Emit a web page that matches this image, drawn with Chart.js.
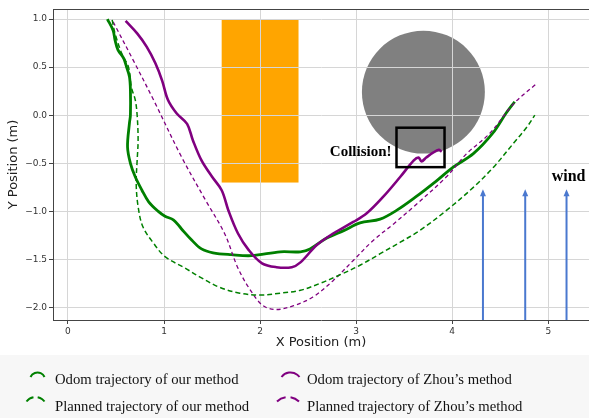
<!DOCTYPE html>
<html>
<head>
<meta charset="utf-8">
<script src="https://cdn.jsdelivr.net/npm/chart.js@4.4.1/dist/chart.umd.min.js"></script>
<style>
  html, body { margin: 0; padding: 0; background: #ffffff; }
  #wrap { width: 589px; height: 418px; position: relative; }
</style>
</head>
<body>
<div id="wrap"><canvas id="c" width="589" height="418"></canvas></div>
<script>
// Trajectories (metres)
const ourOdomX = [0.41,0.47,0.49,0.52,0.58,0.61,0.64,0.65,0.65,0.64,0.62,0.65,0.70,0.77,0.84,0.94,1.01,1.10,1.18,1.29,1.39,1.51,1.70,1.91,2.21,2.42,2.52,2.69,2.87,3.04,3.25,3.42,3.62,3.84,4.01,4.22,4.42,4.56,4.65];
const ourOdomY = [1.00,0.88,0.78,0.68,0.59,0.50,0.40,0.26,0.00,-0.08,-0.33,-0.50,-0.64,-0.78,-0.90,-1.00,-1.05,-1.09,-1.18,-1.30,-1.39,-1.43,-1.45,-1.46,-1.42,-1.42,-1.39,-1.28,-1.20,-1.12,-1.08,-0.99,-0.85,-0.68,-0.54,-0.40,-0.19,0.02,0.14];

const ourPlanX = [0.46,0.49,0.56,0.63,0.66,0.70,0.72,0.73,0.72,0.71,0.73,0.78,0.89,1.01,1.22,1.37,1.58,1.79,2.00,2.21,2.42,2.62,2.83,3.04,3.25,3.46,3.66,3.94,4.22,4.43,4.64,4.78,4.86];
const ourPlanY = [0.99,0.85,0.64,0.50,0.29,0.16,0.00,-0.26,-0.47,-0.71,-0.95,-1.16,-1.33,-1.47,-1.59,-1.68,-1.79,-1.85,-1.87,-1.85,-1.82,-1.75,-1.66,-1.56,-1.44,-1.32,-1.20,-0.99,-0.75,-0.54,-0.29,-0.12,0.00];

const zhouOdomX = [0.60,0.72,0.82,0.91,0.98,1.04,1.13,1.24,1.30,1.39,1.50,1.60,1.67,1.77,1.88,2.02,2.17,2.33,2.42,2.59,2.76,2.97,3.11,3.28,3.46,3.60,3.65,3.68,3.73,3.80,3.86,3.89];
const zhouOdomY = [0.98,0.85,0.71,0.54,0.36,0.16,0.02,-0.09,-0.26,-0.47,-0.64,-0.78,-0.99,-1.23,-1.40,-1.54,-1.58,-1.58,-1.53,-1.35,-1.23,-1.11,-1.02,-0.85,-0.64,-0.47,-0.44,-0.48,-0.44,-0.39,-0.36,-0.38];

const zhouPlanX = [0.47,0.68,0.89,1.18,1.43,1.63,1.77,1.90,2.03,2.17,2.35,2.55,2.76,2.97,3.18,3.39,3.60,3.94,4.15,4.39,4.64,4.88];
const zhouPlanY = [0.97,0.57,0.16,-0.43,-0.88,-1.23,-1.59,-1.82,-1.98,-2.02,-1.98,-1.89,-1.72,-1.51,-1.30,-1.13,-0.95,-0.64,-0.40,-0.19,0.12,0.33];

// Obstacles, collision box and wind markers
const blockX = [1.6, 2.4];
const blockY = [-0.7, 1.0];
const obsCenter = [3.70, 0.24];
const obsRadius = 0.64;
const collisionX = [3.42, 3.92];
const collisionY = [-0.54, -0.13];
const windX = [4.32, 4.76, 5.19];
const windTop = -0.77;

// Axis ticks
const xTicks = [0, 1, 2, 3, 4, 5];
const yTicks = [-2.0, -1.5, -1.0, -0.5, 0.0, 0.5, 1.0];

const seriesNames = [
  'Odom trajectory of our method',
  'Odom trajectory of Zhou\u2019s method',
  'Planned trajectory of our method',
  'Planned trajectory of Zhou\u2019s method'
];

const GREEN = '#008000';
const PURPLE = '#800080';

const pts = (xs, ys) => xs.map((v, i) => ({ x: v, y: ys[i] }));

const overlay = {
  id: 'overlay',
  beforeDraw(chart) {
    const { ctx, scales: { x, y } } = chart;
    ctx.save();
    // orange block
    const bx0 = x.getPixelForValue(blockX[0]), bx1 = x.getPixelForValue(blockX[1]);
    const by0 = y.getPixelForValue(blockY[1]), by1 = y.getPixelForValue(blockY[0]);
    ctx.fillStyle = '#FFA500';
    ctx.fillRect(bx0, by0, bx1 - bx0, by1 - by0);
    // grey round obstacle
    const cx = x.getPixelForValue(obsCenter[0]), cy = y.getPixelForValue(obsCenter[1]);
    const r = x.getPixelForValue(obsCenter[0] + obsRadius) - cx;
    ctx.fillStyle = '#808080';
    ctx.beginPath();
    ctx.arc(cx, cy, r, 0, Math.PI * 2);
    ctx.fill();
    ctx.restore();
  },
  afterDraw(chart) {
    const { ctx, chartArea: a, scales: { x, y } } = chart;
    ctx.save();
    // top spine
    ctx.strokeStyle = '#444';
    ctx.lineWidth = 1;
    ctx.beginPath();
    ctx.moveTo(a.left, a.top + 0.5);
    ctx.lineTo(a.right, a.top + 0.5);
    ctx.stroke();

    // collision box
    const rx0 = x.getPixelForValue(collisionX[0]), rx1 = x.getPixelForValue(collisionX[1]);
    const ry0 = y.getPixelForValue(collisionY[1]), ry1 = y.getPixelForValue(collisionY[0]);
    ctx.strokeStyle = '#000';
    ctx.lineWidth = 2.5;
    ctx.strokeRect(rx0, ry0, rx1 - rx0, ry1 - ry0);

    ctx.fillStyle = '#000';
    ctx.font = 'bold 15px "Liberation Serif", "Times New Roman", serif';
    ctx.textAlign = 'right';
    ctx.textBaseline = 'middle';
    ctx.fillText('Collision!', rx0 - 5, y.getPixelForValue(-0.38));

    // wind arrows
    ctx.strokeStyle = '#4a78cf';
    ctx.fillStyle = '#4a78cf';
    ctx.lineWidth = 2;
    const tipY = y.getPixelForValue(windTop);
    windX.forEach(wx => {
      const px = x.getPixelForValue(wx);
      ctx.beginPath();
      ctx.moveTo(px, a.bottom);
      ctx.lineTo(px, tipY + 5);
      ctx.stroke();
      ctx.beginPath();
      ctx.moveTo(px, tipY);
      ctx.lineTo(px - 3, tipY + 7);
      ctx.lineTo(px + 3, tipY + 7);
      ctx.closePath();
      ctx.fill();
    });
    ctx.fillStyle = '#000';
    ctx.font = 'bold 16px "Liberation Serif", "Times New Roman", serif';
    ctx.textAlign = 'left';
    ctx.fillText('wind', x.getPixelForValue(5.035), y.getPixelForValue(-0.64));

    // legend panel
    ctx.fillStyle = '#f7f7f7';
    ctx.fillRect(0, 355, chart.width, chart.height - 355);

    const arcIcon = (cxp, topY, w, color, dashed) => {
      const s = 4.5;
      const rr = (w * w / 4 + s * s) / (2 * s);
      const th = Math.asin((w / 2) / rr);
      ctx.save();
      ctx.strokeStyle = color;
      ctx.lineWidth = 2;
      if (dashed) {
        const L = rr * th * 2;
        ctx.setLineDash([L * 0.4, L * 0.2]);
      }
      ctx.beginPath();
      ctx.arc(cxp, topY + rr, rr, -Math.PI / 2 - th, -Math.PI / 2 + th);
      ctx.stroke();
      ctx.restore();
    };

    const items = [
      { ix: 37.5, iy: 372.5, w: 14, color: GREEN, dashed: false, tx: 55, ty: 380 },
      { ix: 290.5, iy: 372.5, w: 18, color: PURPLE, dashed: false, tx: 307, ty: 380 },
      { ix: 35.5, iy: 397, w: 18, color: GREEN, dashed: true, tx: 55, ty: 407 },
      { ix: 288, iy: 397, w: 22, color: PURPLE, dashed: true, tx: 307, ty: 407 }
    ];
    ctx.font = '14.7px "Liberation Serif", "Times New Roman", serif';
    ctx.textAlign = 'left';
    ctx.textBaseline = 'middle';
    items.forEach((it, i) => {
      arcIcon(it.ix, it.iy, it.w, it.color, it.dashed);
      ctx.fillStyle = '#111';
      ctx.fillText(seriesNames[i], it.tx, it.ty);
    });
    ctx.restore();
  }
};

const tickFont = { family: 'DejaVu Sans', size: 9 };
const titleFont = { family: 'DejaVu Sans', size: 13 };

new Chart(document.getElementById('c'), {
  type: 'scatter',
  data: {
    datasets: [
      { label: seriesNames[2], data: pts(ourPlanX, ourPlanY), borderColor: GREEN, borderWidth: 1.5, borderDash: [5, 3], showLine: true, tension: 0.35, pointRadius: 0, fill: false },
      { label: seriesNames[3], data: pts(zhouPlanX, zhouPlanY), borderColor: PURPLE, borderWidth: 1.3, borderDash: [4, 3], showLine: true, tension: 0.35, pointRadius: 0, fill: false },
      { label: seriesNames[1], data: pts(zhouOdomX, zhouOdomY), borderColor: PURPLE, borderWidth: 2.6, showLine: true, tension: 0.35, pointRadius: 0, fill: false },
      { label: seriesNames[0], data: pts(ourOdomX, ourOdomY), borderColor: GREEN, borderWidth: 2.8, showLine: true, tension: 0.35, pointRadius: 0, fill: false }
    ]
  },
  options: {
    responsive: false,
    animation: false,
    layout: { padding: { top: 9, right: 0, bottom: 64, left: 0 } },
    plugins: { legend: { display: false }, tooltip: { enabled: false } },
    scales: {
      x: {
        type: 'linear',
        min: -0.156,
        max: 5.424,
        afterBuildTicks: s => { s.ticks = xTicks.map(v => ({ value: v })); },
        afterFit: s => { s.height = 34; },
        grid: { color: '#d6d6d6', tickColor: '#444', tickLength: 4, lineWidth: 1 },
        border: { color: '#444', width: 1 },
        ticks: { font: tickFont, color: '#333', padding: 2, maxRotation: 0, autoSkip: false, callback: v => String(v) },
        title: { display: true, text: 'X Position (m)', font: titleFont, color: '#222', padding: { top: 0, bottom: 4 } }
      },
      y: {
        type: 'linear',
        min: -2.129,
        max: 1.104,
        afterBuildTicks: s => { s.ticks = yTicks.map(v => ({ value: v })); },
        afterFit: s => { s.width = 53; },
        grid: { color: '#d6d6d6', tickColor: '#444', tickLength: 4, lineWidth: 1 },
        border: { color: '#444', width: 1 },
        ticks: { font: tickFont, color: '#333', padding: 2, autoSkip: false, callback: v => v.toFixed(1).replace('-', '\u2212') },
        title: { display: true, text: 'Y Position (m)', font: titleFont, color: '#222', padding: { top: 6, bottom: 0 } }
      }
    }
  },
  plugins: [overlay]
});
</script>
</body>
</html>
